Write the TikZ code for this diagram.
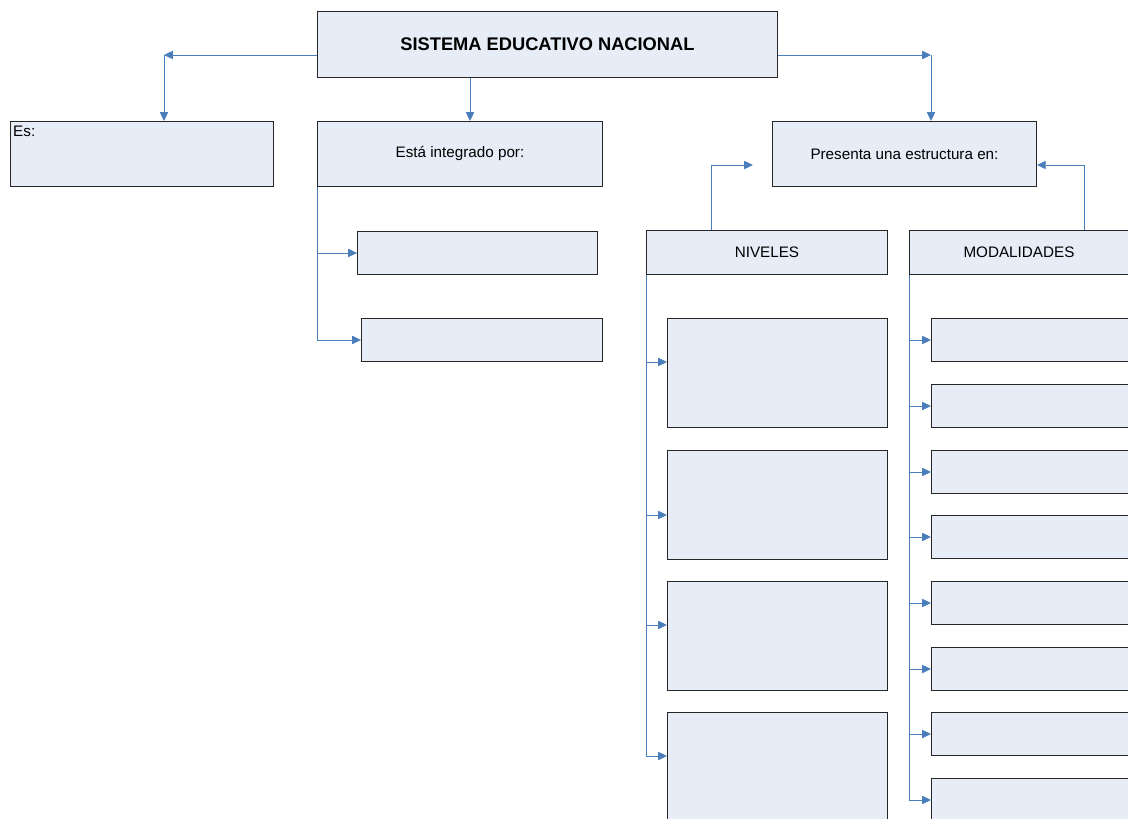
\documentclass[tikz,border=0pt]{standalone}
\usepackage{fontspec}
\setmainfont{Liberation Sans}
\usepackage{tikz}
\usetikzlibrary{arrows.meta}

\definecolor{boxfill}{HTML}{E6EDF6}
\definecolor{linkblue}{HTML}{4A7EBB}
\newdimen\pxu
\pxu=0.03cm

\begin{document}
\begin{tikzpicture}[x=0.03cm, y=-0.03cm,
  box/.style={draw=black!85, line width=0.8pt, fill=boxfill, anchor=north west,
    inner sep=0pt, font=\fontsize{13}{15}\selectfont},
  wire/.style={draw=linkblue, line width=0.75pt},
  conn/.style={wire, -{Triangle[length=7.5pt,width=7pt]}}]
\useasboundingbox (0,0) rectangle (1128,819);
\clip (0,0) rectangle (1128,819);

% top row
\node[box, minimum width=460*\pxu, minimum height=66*\pxu,
  font=\fontsize{15.6}{18}\selectfont\bfseries] (top) at (317,11) {SISTEMA EDUCATIVO NACIONAL};
\node[box, minimum width=263*\pxu, minimum height=65*\pxu] (es) at (10,121) {};
\node[anchor=north west, inner sep=0pt, font=\fontsize{13}{15}\selectfont] (eslabel) at (13,126) {Es:};
\node[box, minimum width=285*\pxu, minimum height=65*\pxu] (integ) at (317,121) {Está integrado por:};
\node[box, minimum width=264*\pxu, minimum height=65*\pxu] (pres) at (772,121) {Presenta una estructura en:};

% integrado por
\node[box, minimum width=240*\pxu, minimum height=43*\pxu] (integA) at (357,231) {};
\node[box, minimum width=241*\pxu, minimum height=43*\pxu] (integB) at (361,318) {};

% niveles y modalidades
\node[box, minimum width=241*\pxu, minimum height=44*\pxu] (niv) at (646,230) {NIVELES};
\node[box, minimum width=241*\pxu, minimum height=44*\pxu,
  label={[xshift=-11*\pxu, font=\fontsize{13}{15}\selectfont]center:MODALIDADES}] (mod) at (909,230) {};
\foreach \y [count=\i] in {318,450,581,712}
  \node[box, minimum width=220*\pxu, minimum height=109*\pxu] (niv\i) at (667,\y) {};
\foreach \y [count=\i] in {318,384,450,515,581,647,712,778}
  \node[box, minimum width=220*\pxu, minimum height=43*\pxu] (mod\i) at (931,\y) {};

% connectors from the top box
\coordinate (esturn) at (164,55);
\coordinate (presturn) at (931,55);
\draw[conn] (top.west |- esturn) -- (esturn);
\draw[conn] (esturn) -- (es.north -| esturn);
\draw[conn] (top.south -| 470,0) -- (integ.north -| 470,0);
\draw[conn] (top.east |- presturn) -- (presturn);
\draw[conn] (presturn) -- (pres.north -| presturn);

% niveles and modalidades up to pres
\coordinate (nivend) at (753,165);
\draw[conn] (niv.north -| 711,0) |- (nivend);
\draw[conn] (mod.north -| 1084,0) |- (pres.east |- nivend);

% integrado por branches
\draw[wire] (integ.south west) -- (integ.south west |- integB.west);
\draw[conn] (integ.south west |- integA.west) -- (integA.west);
\draw[conn] (integ.south west |- integB.west) -- (integB.west);

% niveles branches
\draw[wire] (niv.south west) -- (646,756);
\foreach \y [count=\i] in {362,515,625,756}
  \draw[conn] (646,\y) -- (niv\i.west |- 0,\y);

% modalidades branches
\draw[wire] (mod.south west) -- (909,800);
\foreach \y [count=\i] in {340,406,472,537,603,669,734,800}
  \draw[conn] (909,\y) -- (mod\i.west |- 0,\y);
\end{tikzpicture}
\end{document}
